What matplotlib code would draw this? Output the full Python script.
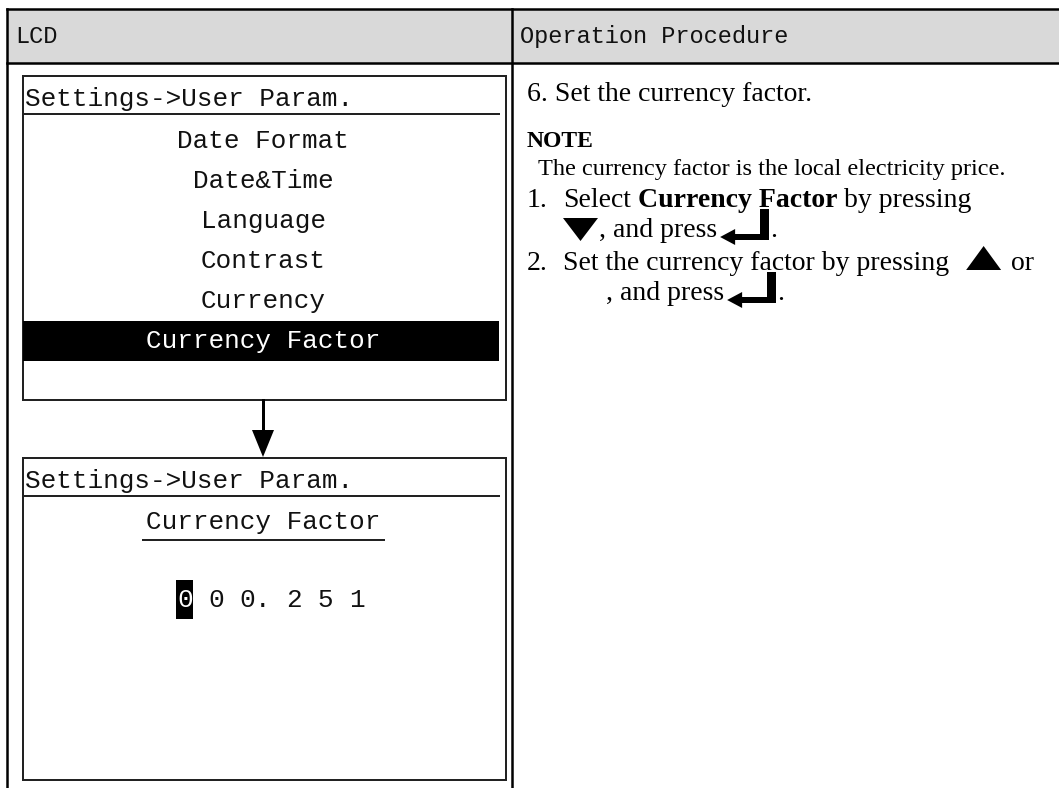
import matplotlib
matplotlib.use("Agg")
import matplotlib.pyplot as plt
from matplotlib.patches import Rectangle, Polygon

W, H = 1059, 788

# table content
header_cols = ["LCD", "Operation Procedure"]
menu_title = "Settings->User Param."
menu_items = ["Date Format", "Date&Time", "Language", "Contrast", "Currency", "Currency Factor"]
selected = "Currency Factor"
edit_title = "Currency Factor"
edit_value = "0 0 0. 2 5 1"
step_title = "6. Set the currency factor."
note_head = "NOTE"
note_text = "The currency factor is the local electricity price."

LCD_FONT = "Liberation Mono"
DOC_FONT = "Liberation Serif"

fig = plt.figure(figsize=(W / 100, H / 100), dpi=100)
ax = fig.add_axes([0, 0, 1, 1])
ax.set_xlim(0, W)
ax.set_ylim(H, 0)
ax.axis("off")
rend = fig.canvas.get_renderer()

def px(v):
    # pixels -> points for line widths
    return v * 72 / 100

def text_w(s, size, weight="normal", family=DOC_FONT):
    t = ax.text(0, 0, s, fontsize=size, fontweight=weight, family=family)
    w = t.get_window_extent(renderer=rend).width
    t.remove()
    return w

# ---- table frame ----
ax.add_patch(Rectangle((7, 9), W - 7, 54, facecolor="#d9d9d9", edgecolor="none"))
ax.plot([7, W], [9, 9], color="black", lw=px(2.5))
ax.plot([7, W], [63, 63], color="black", lw=px(2.5))
ax.plot([7, 7], [9, H], color="black", lw=px(2.5))
ax.plot([512, 512], [9, H], color="black", lw=px(2.5))
ax.text(15, 36, header_cols[0], family=LCD_FONT, fontsize=17, va="center", color="#111111")
ax.text(520, 36, header_cols[1], family=LCD_FONT, fontsize=17, va="center", color="#111111")

# ---- LCD screens ----
LFS = 18.7

def screen(top, bottom):
    ax.add_patch(Rectangle((23, top), 483, bottom - top, facecolor="white",
                           edgecolor="#222222", lw=px(2)))
    ax.text(25, top + 23, menu_title, family=LCD_FONT, fontsize=LFS, va="center", color="#111111")
    ax.plot([23, 499], [top + 38, top + 38], color="#222222", lw=px(2))

cx = 263
screen(76, 400)
for i, item in enumerate(menu_items):
    y = 141 + i * 40
    col = "#111111"
    if item == selected:
        ax.add_patch(Rectangle((23, y - 20), 476, 40, facecolor="black", edgecolor="none"))
        col = "white"
    ax.text(cx, y, item, family=LCD_FONT, fontsize=LFS, ha="center", va="center", color=col)

# arrow between screens
ax.plot([cx, cx], [400, 432], color="black", lw=px(3))
ax.add_patch(Polygon([[cx - 11, 430], [cx + 11, 430], [cx, 457]], closed=True,
                     facecolor="black", edgecolor="none"))

screen(458, 780)
ax.text(cx, 522, edit_title, family=LCD_FONT, fontsize=LFS, ha="center", va="center", color="#111111")
ax.plot([143, 384], [540, 540], color="#222222", lw=px(2))
cw = text_w("0", LFS, family=LCD_FONT)
x0 = 177
ax.add_patch(Rectangle((x0 - 1, 580), cw + 1, 39, facecolor="black", edgecolor="none"))
for i, ch in enumerate(edit_value):
    col = "white" if i == 0 else "#111111"
    ax.text(x0 + i * cw, 600, ch, family=LCD_FONT, fontsize=LFS, va="center", color=col)

# ---- procedure column ----
FS = 20
sp = text_w("x x", FS) - text_w("xx", FS)

def run(x, y, parts):
    for s, weight in parts:
        ax.text(x, y, s, family=DOC_FONT, fontsize=FS, fontweight=weight, va="baseline", color="black")
        x += text_w(s, FS, weight)
    return x

def tri_down(x, base):
    ax.add_patch(Polygon([[x, base - 19], [x + 35, base - 19], [x + 17.5, base + 4]],
                         closed=True, facecolor="black", edgecolor="none"))
    return x + 35

def tri_up(x, base):
    ax.add_patch(Polygon([[x, base], [x + 35, base], [x + 17.5, base - 24]],
                         closed=True, facecolor="black", edgecolor="none"))
    return x + 35

def enter_key(x, base):
    # L-shaped enter glyph: vertical bar on the right, arrow pointing left
    ax.add_patch(Rectangle((x + 40, base - 28), 9, 31, facecolor="black", edgecolor="none"))
    ax.add_patch(Rectangle((x + 12, base - 3), 37, 6, facecolor="black", edgecolor="none"))
    ax.add_patch(Polygon([[x, base], [x + 15, base - 8], [x + 15, base + 8]],
                         closed=True, facecolor="black", edgecolor="none"))
    return x + 50

run(527, 101, [(step_title, "normal")])
ax.text(527, 147, note_head, family=DOC_FONT, fontsize=17, fontweight="bold", va="baseline")
ax.text(538, 175, note_text, family=DOC_FONT, fontsize=17.5, va="baseline")

ind = 563
run(527, 207, [("1.", "normal")])
x = run(ind, 207, [("Select", "normal")])
x = run(x + sp, 207, [("Currency Factor", "bold")])
run(x + sp, 207, [("by pressing", "normal")])
x = tri_down(ind, 237)
x = run(x + 1, 237, [(",", "normal")])
x = run(x + sp, 237, [("and press", "normal")])
x = enter_key(x + 3, 237)
run(x, 237, [(".", "normal")])

run(527, 270, [("2.", "normal")])
x = run(ind, 270, [("Set the currency factor by pressing", "normal")])
x = tri_up(x + 2 * sp + 3, 270)
run(x + sp + 3, 270, [("or", "normal")])
x = run(ind + 43, 300, [(",", "normal")])
x = run(x + sp, 300, [("and press", "normal")])
x = enter_key(x + 3, 300)
run(x, 300, [(".", "normal")])

fig.savefig("out.png", dpi=100)
